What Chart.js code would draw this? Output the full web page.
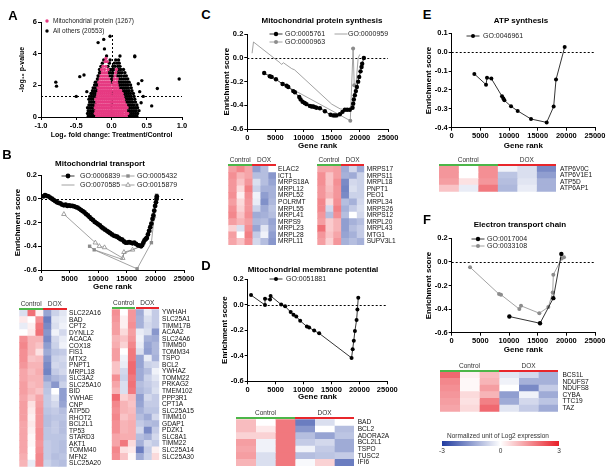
<!DOCTYPE html>
<html>
<head>
<meta charset="utf-8">
<title>Mitochondrial gene set enrichment</title>
<script src="https://cdn.jsdelivr.net/npm/chart.js@4.4.1/dist/chart.umd.min.js"></script>
<style>
  html, body { margin: 0; padding: 0; background: #fff; }
  body { position: relative; width: 612px; height: 476px; overflow: hidden; font-family: "Liberation Sans", Arial, sans-serif; color: #000; }
  canvas { position: absolute; }
  .t { position: absolute; white-space: nowrap; line-height: 1; transform: translate(-50%, -50%); }
  .strip { position: absolute; height: 2px; }
</style>
</head>
<body>
<script>
// ---------- A: volcano plot (log2 fold change, -log10 p) ----------
const mitoRows = [
  [0.05, [-0.21, -0.18, -0.15, -0.12, -0.09, -0.06, -0.03, 0.0, 0.03, 0.06, 0.09, 0.12, 0.15, 0.18, 0.21]],
  [0.22, [-0.23, -0.2, -0.17, -0.14, -0.11, -0.08, -0.05, -0.02, 0.01, 0.04, 0.07, 0.1, 0.13, 0.16, 0.2, 0.23]],
  [0.4, [-0.22, -0.19, -0.16, -0.13, -0.1, -0.07, -0.04, -0.01, 0.02, 0.05, 0.08, 0.11, 0.14, 0.17, 0.2]],
  [0.58, [-0.23, -0.2, -0.17, -0.14, -0.11, -0.08, -0.05, -0.02, 0.01, 0.04, 0.07, 0.1, 0.13, 0.16, 0.19, 0.22]],
  [0.76, [-0.22, -0.19, -0.16, -0.13, -0.1, -0.07, -0.04, -0.01, 0.02, 0.05, 0.08, 0.11, 0.14, 0.17, 0.2]],
  [0.94, [-0.21, -0.18, -0.15, -0.12, -0.09, -0.06, -0.03, 0.0, 0.03, 0.06, 0.09, 0.12, 0.15, 0.18]],
  [1.12, [-0.22, -0.19, -0.16, -0.13, -0.1, -0.07, -0.04, -0.01, 0.02, 0.05, 0.08, 0.11, 0.14, 0.17]],
  [1.3, [-0.2, -0.17, -0.14, -0.11, -0.08, -0.05, -0.02, 0.01, 0.04, 0.07, 0.1, 0.13, 0.16]],
  [1.48, [-0.19, -0.16, -0.13, -0.1, -0.07, -0.04, -0.01, 0.03, 0.06, 0.09, 0.12, 0.15]],
  [1.66, [-0.18, -0.15, -0.12, -0.09, -0.06, -0.03, 0.0, 0.04, 0.07, 0.1, 0.13]],
  [1.84, [-0.19, -0.16, -0.13, -0.1, -0.07, -0.04, -0.01, 0.03, 0.06, 0.09]],
  [2.02, [-0.17, -0.14, -0.11, -0.08, -0.05, -0.02, 0.02, 0.05, 0.08]],
  [2.2, [-0.18, -0.15, -0.12, -0.09, -0.06, -0.03, 0.03, 0.07]],
  [2.4, [-0.16, -0.13, -0.1, -0.07, -0.04, 0.04, 0.08]],
  [2.6, [-0.15, -0.12, -0.09, -0.06, 0.05]],
  [2.8, [-0.13, -0.1, -0.07, 0.06]],
  [3.0, [-0.14, -0.1, -0.05, 0.07]],
  [3.2, [-0.12, -0.08]],
  [3.5, [-0.09, -0.06]],
  [3.7, [-0.08]],
];
const otherRows = [
  [0.05, [-0.33, -0.3, -0.27, -0.24, -0.01, 0.24, 0.27, 0.3, 0.33, 0.36]],
  [0.22, [-0.34, -0.31, -0.28, -0.25, 0.01, 0.25, 0.28, 0.31, 0.34, 0.37]],
  [0.4, [-0.33, -0.3, -0.27, -0.24, 0.23, 0.26, 0.29, 0.32, 0.35, 0.39]],
  [0.58, [-0.34, -0.31, -0.28, -0.25, 0.0, 0.25, 0.28, 0.31, 0.34, 0.37]],
  [0.76, [-0.32, -0.29, -0.26, -0.23, 0.23, 0.26, 0.29, 0.32, 0.36]],
  [0.94, [-0.31, -0.28, -0.25, -0.22, 0.0, 0.21, 0.24, 0.27, 0.3, 0.34]],
  [1.12, [-0.32, -0.29, -0.26, 0.2, 0.23, 0.26, 0.29, 0.33]],
  [1.3, [-0.31, -0.28, -0.25, -0.22, 0.19, 0.22, 0.25, 0.28, 0.32]],
  [1.48, [-0.29, -0.26, -0.23, 0.0, 0.18, 0.21, 0.24, 0.27, 0.31]],
  [1.66, [-0.27, -0.24, -0.21, 0.16, 0.19, 0.22, 0.25, 0.29]],
  [1.84, [-0.26, -0.23, -0.2, 0.12, 0.15, 0.18, 0.21, 0.24, 0.28]],
  [2.02, [-0.24, -0.21, -0.19, 0.11, 0.14, 0.17, 0.2, 0.23, 0.27]],
  [2.2, [-0.23, -0.21, 0.0, 0.1, 0.13, 0.16, 0.19, 0.22, 0.25]],
  [2.4, [-0.2, -0.19, 0.0, 0.01, 0.11, 0.14, 0.17, 0.2, 0.23]],
  [2.6, [-0.19, -0.18, -0.03, 0.0, 0.02, 0.08, 0.11, 0.14, 0.18, 0.21]],
  [2.8, [-0.17, -0.16, -0.04, -0.01, 0.02, 0.09, 0.12, 0.15, 0.19]],
  [3.0, [-0.17, -0.02, 0.01, 0.03, 0.1, 0.13, 0.17]],
  [3.2, [-0.15, -0.05, 0.02, 0.05, 0.09, 0.12]],
  [3.4, [-0.13, -0.03, 0.04, 0.08, 0.11]],
  [3.6, [-0.11, -0.02, 0.06, 0.1]],
  [3.85, [-0.07, 0.12, 0.33]],
];
const otherOutliers = [
  [-0.79, 2.2], [-0.78, 1.95], [-0.5, 1.3], [-0.45, 2.55], [-0.39, 2.65], [-0.35, 1.6],
  [-0.19, 4.7], [-0.11, 4.9], [-0.02, 5.1], [-0.1, 4.3], [0.33, 3.8], [0.38, 2.1],
  [0.43, 2.3], [0.4, 1.6], [0.45, 1.3], [0.42, 0.9], [0.57, 0.7], [0.65, 1.8], [0.96, 2.4],
];
const pCut = 1.3;
const volcanoTop = 5.3;

// ---------- B: mitochondrial transport ----------
const bGO0006839 = [
  [400, 0.02], [700, 0.03], [1000, 0.025], [1300, 0.02], [1600, 0.01], [1900, 0.0], [2200, -0.01],
  [2500, -0.02], [2800, -0.03], [3100, -0.035], [3400, -0.04], [3700, -0.05], [4000, -0.055],
  [4300, -0.05], [4600, -0.06], [4900, -0.055], [5200, -0.06], [5500, -0.06], [5800, -0.065],
  [6100, -0.07], [6400, -0.075], [6700, -0.085], [7000, -0.095], [7300, -0.105], [7600, -0.115],
  [7900, -0.13], [8200, -0.14], [8500, -0.155], [8800, -0.17], [9100, -0.18], [9400, -0.195],
  [9700, -0.205], [10000, -0.215], [10300, -0.225], [10600, -0.24], [10900, -0.25], [11200, -0.26],
  [11500, -0.27], [11800, -0.28], [12100, -0.29], [12400, -0.3], [12700, -0.31], [13000, -0.315],
  [13300, -0.32], [13600, -0.33], [13900, -0.34], [14200, -0.345], [14500, -0.36], [14800, -0.37],
  [15100, -0.37], [15400, -0.365], [15700, -0.37], [16000, -0.375], [16300, -0.37], [16600, -0.38],
  [16900, -0.39], [17200, -0.395], [17500, -0.4], [17700, -0.39], [17900, -0.37], [18100, -0.35],
  [18300, -0.34], [18500, -0.33], [18700, -0.3], [18900, -0.27], [19100, -0.24], [19300, -0.21],
  [19500, -0.17], [19650, -0.14], [19800, -0.1], [19950, -0.06], [20100, -0.03], [20200, 0.0], [20250, 0.02],
];
const bGO0005432 = [[8500, -0.4], [9300, -0.43], [16800, -0.59], [19300, -0.37], [20200, 0.03]];
const bGO0070585 = [[8800, -0.41], [9300, -0.43], [14200, -0.51], [14500, -0.46], [17000, -0.41], [18500, -0.33], [20000, -0.05], [20300, 0.02]];
const bGO0015879 = [[4000, -0.13], [9500, -0.37], [10200, -0.4], [11100, -0.41], [14300, -0.5], [14500, -0.45], [16000, -0.43], [17300, -0.4], [18200, -0.34], [19000, -0.27], [19700, -0.15], [20200, 0.0]];

const bLeftGenes = ['SLC22A16', 'BAD', 'CPT2', 'DYNLL2', 'ACACA', 'COX18', 'FIS1', 'MTX2', 'PNPT1', 'MRPL18', 'SLC3A2', 'SLC25A10', 'BID', 'YWHAE', 'CNP', 'ATP5D', 'RHOT2', 'BCL2L1', 'TP53', 'STARD3', 'AKT1', 'TOMM40', 'MFN2', 'SLC25A20'];
const bLeftValues = [
  [-0.5, 1.9, 0.2, -1.4, -0.7, -0.4], [0.3, 0.0, 1.5, -2.0, -0.4, -0.3], [-0.3, 0.2, 1.8, -1.8, -0.5, -0.2],
  [0.0, 0.3, 1.9, -1.6, -0.2, -0.6], [1.5, 1.0, 1.0, -1.8, -0.6, -0.3], [1.6, 1.0, 0.8, -1.5, -0.7, -0.2],
  [1.5, 1.0, 0.4, -1.3, -0.9, -0.8], [1.5, 0.8, 0.9, -1.6, -0.7, -0.6], [1.4, 1.0, 1.0, -1.8, -0.6, -0.7],
  [1.2, 0.9, 1.1, -1.9, -0.8, -0.6], [1.2, 1.0, 1.0, -1.4, -1.1, -0.9], [1.3, 0.9, 1.0, -1.0, -1.6, -0.7],
  [1.3, 1.0, 0.8, -0.9, 0.0, -1.5], [1.2, 0.8, 1.2, -0.8, -0.4, -1.5], [1.3, 0.4, 1.3, -0.8, -0.6, -1.4],
  [1.3, 0.3, 1.4, -0.9, -0.8, -1.0], [1.3, 0.2, 1.4, -1.0, -0.9, -0.9], [1.2, 0.3, 1.4, -1.0, -0.8, -1.0],
  [1.2, 0.2, 1.5, -0.9, -0.8, -1.0], [1.2, 0.1, 1.5, -0.9, -0.9, -0.9], [1.2, 0.1, 1.4, -0.8, -0.9, -1.0],
  [1.2, 0.0, 1.5, -0.8, -0.9, -1.0], [1.1, 0.0, 1.6, -0.8, -1.0, -0.9], [1.0, -0.3, 1.6, -0.7, -0.9, -1.0],
];
const bRightGenes = ['YWHAH', 'SLC25A1', 'TIMM17B', 'ACAA2', 'SLC24A6', 'TIMM50', 'TOMM34', 'TSPO', 'BCL2', 'YWHAZ', 'TOMM22', 'PRKAG2', 'TMEM102', 'PPP3R1', 'CPT1A', 'SLC25A15', 'TIMM10', 'GDAP1', 'PDZK1', 'SLC8A1', 'TIMM22', 'SLC25A14', 'SLC25A30'];
const bRightValues = [
  [1.5, 0.0, 1.4, -1.3, -0.3, -0.8], [1.4, 0.2, 1.4, -1.2, -0.5, -0.8], [1.3, 0.2, 1.5, -1.2, -0.6, -0.8],
  [1.3, 0.5, 1.3, -0.3, -0.5, -1.6], [1.0, 0.8, 1.4, -0.2, -1.2, -1.3], [1.1, 0.6, 1.6, -0.3, -1.4, -1.1],
  [1.3, 0.0, 1.8, -0.5, -1.5, -1.1], [1.3, -0.2, 1.8, -1.4, -0.3, -1.2], [0.8, -0.3, 2.0, -1.4, -0.7, -0.6],
  [0.8, -0.6, 2.0, -1.3, -1.0, -0.2], [1.5, -0.7, 1.8, -1.3, -0.7, -0.4], [1.2, -0.5, 1.9, -1.0, -0.8, -0.6],
  [1.0, -0.5, 1.8, -1.1, -0.9, -0.5], [2.0, 0.6, 0.9, -1.5, -0.6, -0.8], [1.6, 1.0, 0.8, -1.4, -0.8, -0.8],
  [1.5, 1.0, 0.9, -1.2, -0.9, -0.9], [1.6, 0.8, 1.0, -1.0, -1.3, -0.6], [1.5, 1.0, 1.1, -0.8, -1.0, -1.1],
  [1.5, 1.0, 1.1, -0.6, -1.8, -0.8], [1.2, 1.1, 1.1, -1.0, -1.2, -0.6], [1.2, 1.8, 0.5, -1.2, -0.6, -0.8],
  [1.6, 0.4, 0.3, -2.0, -0.8, 0.2], [1.5, 0.8, 0.1, -1.3, -0.7, 0.5],
];

// ---------- C: mitochondrial protein synthesis ----------
const cGO0005761 = [
  [3000, -0.127], [4000, -0.155], [4330, -0.16], [5090, -0.18], [6270, -0.22], [6980, -0.235], [7280, -0.245],
  [8170, -0.28], [8460, -0.29], [9230, -0.33], [9470, -0.35], [9820, -0.37], [10200, -0.38], [10530, -0.39],
  [11120, -0.405], [11420, -0.41], [11720, -0.41], [12000, -0.415], [12300, -0.42], [12900, -0.425],
  [13790, -0.45], [14790, -0.48], [15270, -0.485], [15560, -0.485], [15860, -0.485], [16450, -0.475],
  [16920, -0.455], [17340, -0.437], [17750, -0.437], [18220, -0.437], [18700, -0.42], [18820, -0.386],
  [18930, -0.35], [19110, -0.315], [19290, -0.28], [19470, -0.245], [19700, -0.2], [19880, -0.16],
  [20120, -0.113], [20300, -0.076], [20410, -0.048], [20710, 0.0],
];
const cGO0000963 = [[6300, -0.22], [18300, -0.53], [18800, 0.08], [19000, -0.23]];
const cGO0000959 = [[850, 0.04], [1100, 0.135], [5800, -0.04], [6100, -0.055], [6400, -0.04], [7900, -0.09], [8400, -0.1], [15000, -0.39], [16500, -0.43], [18300, -0.44], [19300, -0.23], [19700, 0.0], [20000, 0.03]];

const cLeftGenes = ['ELAC2', 'ICT1', 'MRPS18A', 'MRPL12', 'MRPL52', 'POLRMT', 'MRPL55', 'MRPL41', 'MRPS9', 'MRPL23', 'MRPL28', 'MRPL11'];
const cLeftValues = [
  [1.3, 1.6, 1.2, -1.5, -1.0, 0.0], [1.5, 1.0, 1.2, -1.0, -1.0, -1.6], [1.4, 0.8, 1.4, -0.5, -1.0, -1.4],
  [1.4, 0.5, 1.7, -0.7, -1.2, -1.2], [1.5, 0.2, 1.5, -0.2, -1.5, -1.2], [1.3, 0.5, 1.4, -0.3, -1.7, -1.1],
  [1.5, 0.6, 1.4, -0.7, -1.3, -0.9], [1.6, 0.8, 1.5, -1.3, -1.2, -1.0], [1.3, 1.0, 1.3, -1.1, -1.0, -1.4],
  [0.6, -0.5, 1.5, -1.4, -0.4, -1.3], [1.3, 0.0, 1.7, -0.8, -0.2, -1.5], [1.2, 0.8, 1.5, -0.6, -1.0, -1.6],
];
const cRightGenes = ['MRPS17', 'MRPS11', 'MRPL18', 'PNPT1', 'PEO1', 'MRPL34', 'MRPS26', 'MRPS12', 'MRPL20', 'MRPL43', 'MTG1', 'SUPV3L1'];
const cRightValues = [
  [1.2, 1.2, 1.3, -1.3, -0.6, -1.3], [1.5, 0.8, 1.3, -1.2, -1.3, -0.7], [1.5, 0.8, 1.5, -1.8, -0.6, -0.7],
  [1.4, 0.9, 1.4, -1.9, -0.5, -0.7], [1.4, 1.0, 1.4, -1.8, -0.7, -0.7], [1.6, 0.5, 1.5, -1.0, -1.2, -0.6],
  [1.6, -0.6, 1.7, -1.2, -0.8, -0.5], [1.4, -1.0, 1.5, -1.0, 0.0, -0.6], [1.3, 0.7, 1.0, -1.5, -1.2, -1.0],
  [1.9, 0.7, 1.0, -1.5, -1.0, -0.8], [1.4, 0.8, 1.2, -1.4, -1.2, -0.8], [1.3, 0.6, 1.4, -1.2, -1.0, -1.2],
];

// ---------- D: mitochondrial membrane potential ----------
const dGO0051881 = [
  [600, 0.074], [3100, -0.003], [3100, 0.046], [4000, 0.04], [4100, 0.068], [6000, 0.0], [6700, -0.014],
  [7700, -0.059], [8200, -0.079], [8700, -0.093], [9400, -0.127], [10600, -0.172], [11000, -0.18],
  [11900, -0.203], [12800, -0.225], [18600, -0.417], [18800, -0.349], [19000, -0.282], [19200, -0.206],
  [19500, -0.121], [19650, -0.039], [19800, 0.054],
];
const dGenes = ['BAD', 'BCL2', 'ADORA2A', 'BCL2L1', 'TSPO', 'TUSC2', 'IFI6'];
const dValues = [
  [0.9, 0.0, 1.8, -2.0, -0.5, 0.0], [0.9, 0.3, 1.8, -1.6, 0.0, -1.0], [0.6, 0.6, 1.8, -1.0, -1.4, -0.9],
  [1.3, -0.2, 1.8, -0.8, -0.6, -1.3], [1.2, -0.2, 1.8, -0.2, -0.8, -1.3], [1.3, -0.5, 1.8, -1.0, -0.9, -0.8],
  [1.0, -0.5, 1.8, -0.1, 0.6, -2.0],
];

// ---------- E: ATP synthesis ----------
const eGO0046961 = [
  [3950, -0.115], [5990, -0.172], [6160, -0.136], [6920, -0.14], [8780, -0.234], [9010, -0.246], [9190, -0.255],
  [10350, -0.287], [11510, -0.311], [13840, -0.354], [16570, -0.372], [17790, -0.288], [18200, -0.145], [19710, 0.027],
];
const eGenes = ['ATP6V0C', 'ATP6V1E1', 'ATP5D', 'ATP6AP1'];
const eValues = [
  [1.4, 0.0, 1.5, -0.2, -0.5, -1.8], [1.4, 0.0, 1.5, -0.9, -0.5, -1.5],
  [1.3, 0.4, 1.4, -1.0, -0.4, -1.2], [0.8, -0.3, 1.8, -1.1, -0.3, -1.2],
];

// ---------- F: electron transport chain ----------
const fGO0017004 = [[10060, -0.463], [15410, -0.52], [17730, -0.307], [19130, 0.068]];
const fGO0033108 = [[3200, -0.045], [8260, -0.273], [8600, -0.278], [11800, -0.4], [12090, -0.372], [15290, -0.435], [16860, -0.383], [17620, -0.26], [17730, -0.108], [19190, 0.028], [19590, 0.04]];
const fGenes = ['BCS1L', 'NDUFS7', 'NDUFS8', 'CYBA', 'TTC19', 'TAZ'];
const fValues = [
  [2.0, 0.2, 0.9, -0.4, -0.6, -1.2], [1.6, 0.1, 1.0, -0.2, -1.2, -1.2], [1.5, 0.1, 1.3, 0.0, -1.8, -0.8],
  [1.4, 0.5, 1.0, -1.5, -0.2, -1.3], [1.3, 0.4, 1.7, -1.3, -0.6, -0.9], [1.2, 0.5, 2.0, -0.4, -0.8, -1.3],
];

const rankRange = [0, 25000, 5000];
const colorbarTicks = [-3, 0, 3];

// ---------------------------------------------------------------
const FONT = '"Liberation Sans", Arial, sans-serif';
Chart.defaults.font.family = FONT;
Chart.defaults.color = '#000';
Chart.defaults.animation = false;

const pts = arr => arr.map(([x, y]) => ({ x, y }));
const rowPts = rows => rows.flatMap(([y, xs]) => xs.map(x => ({ x, y })));

function heat(v) {
  const t = Math.max(-1, Math.min(1, v / 3));
  const end = t < 0 ? [33, 60, 160] : [232, 30, 40];
  const a = Math.abs(t);
  const c = end.map(e => Math.round(255 + (e - 255) * a));
  return `rgb(${c[0]},${c[1]},${c[2]})`;
}

function canvasAt(x, y, w, h) {
  const c = document.createElement('canvas');
  c.width = w; c.height = h;
  c.style.left = x + 'px'; c.style.top = y + 'px';
  c.style.width = w + 'px'; c.style.height = h + 'px';
  document.body.appendChild(c);
  return c;
}

function label(text, x, y, size, weight, color) {
  const d = document.createElement('div');
  d.className = 't';
  d.textContent = text;
  d.style.left = x + 'px'; d.style.top = y + 'px';
  d.style.fontSize = size + 'px';
  if (weight) d.style.fontWeight = weight;
  if (color) d.style.color = color;
  document.body.appendChild(d);
}

function strip(x, y, w, color) {
  const d = document.createElement('div');
  d.className = 'strip';
  d.style.left = x + 'px'; d.style.top = y + 'px';
  d.style.width = w + 'px'; d.style.background = color;
  document.body.appendChild(d);
}

// legend entries drawn where the figure has them
const keysPlugin = {
  id: 'keys',
  afterDraw(chart, args, o) {
    if (!o.items) return;
    const ctx = chart.ctx;
    o.items.forEach(it => {
      const ds = chart.data.datasets[it.ds];
      const x = it.x - o.ox, y = it.y - o.oy;
      ctx.save();
      if (ds.showLine) {
        ctx.strokeStyle = ds.borderColor; ctx.lineWidth = ds.borderWidth;
        ctx.beginPath(); ctx.moveTo(x - 6.5, y); ctx.lineTo(x + 6.5, y); ctx.stroke();
      }
      if (ds.pointRadius > 0) {
        ctx.fillStyle = ds.pointBackgroundColor;
        ctx.strokeStyle = ds.pointBorderColor || ds.pointBackgroundColor;
        ctx.lineWidth = ds.pointBorderWidth || 0;
        Chart.helpers.drawPoint(ctx, { pointStyle: ds.pointStyle || 'circle', radius: ds.pointRadius, borderWidth: ds.pointBorderWidth || 0, rotation: 0 }, x, y);
      }
      ctx.fillStyle = '#222';
      ctx.font = `${o.size || 7}px ${FONT}`;
      ctx.textBaseline = 'middle';
      ctx.fillText(ds.label, it.tx - o.ox, y);
      ctx.restore();
    });
  }
};

// dotted reference lines
const refLinesPlugin = {
  id: 'refLines',
  beforeDatasetsDraw(chart, args, o) {
    const { ctx, chartArea: a, scales: { x, y } } = chart;
    ctx.save();
    ctx.strokeStyle = '#000'; ctx.lineWidth = 1; ctx.setLineDash([2, 2]);
    (o.h || []).forEach(v => {
      const py = Math.round(y.getPixelForValue(v)) + 0.5;
      ctx.beginPath(); ctx.moveTo(a.left, py); ctx.lineTo(a.right, py); ctx.stroke();
    });
    (o.v || []).forEach(([v, top]) => {
      const px = Math.round(x.getPixelForValue(v)) + 0.5;
      ctx.beginPath(); ctx.moveTo(px, a.bottom); ctx.lineTo(px, y.getPixelForValue(top)); ctx.stroke();
    });
    ctx.restore();
  }
};

function plot(o) {
  const [bx, by, bw] = o.box;
  const [l, t, r, b] = o.area;
  const ts = o.titleSize || 8, half = ts * 0.6;
  const bh = Math.ceil(o.xTitleY + half - by);
  const cv = canvasAt(bx, by, bw, bh);
  const axis = (rng, fmt, title, pad, fit) => ({
    type: 'linear', min: rng[0], max: rng[1],
    ticks: { stepSize: rng[2], autoSkip: false, maxRotation: 0, padding: 1, font: { size: 7.5, weight: 'bold' }, color: '#000', callback: fmt },
    grid: { drawOnChartArea: false, tickLength: 3, color: '#000', lineWidth: 1 },
    border: { color: '#000', width: 1 },
    title: { display: true, text: title, color: '#000', font: { size: ts, weight: 'bold' }, padding: pad },
    afterFit: fit,
  });
  return new Chart(cv, {
    type: 'scatter',
    data: { datasets: o.datasets },
    options: {
      responsive: false,
      animation: false,
      layout: { padding: { left: 0, top: t - by, right: bx + bw - r, bottom: 0 } },
      plugins: {
        legend: { display: false },
        tooltip: { enabled: false },
        keys: { ox: bx, oy: by, items: o.keys, size: o.keySize },
        refLines: o.ref,
      },
      scales: {
        x: axis(o.x, o.xFmt, o.xTitle, { top: 0, bottom: Math.max(0, bh - half - (o.xTitleY - by)) }, s => { s.height = bh - (b - by); }),
        y: axis(o.y, o.yFmt, o.yTitle, { top: Math.max(0, o.yTitleX - bx - half), bottom: 0 }, s => { s.width = l - bx; }),
      },
    },
    plugins: [keysPlugin, refLinesPlugin],
  });
}

function heatmap(o) {
  const n = o.genes.length;
  const hH = n * o.rowH;
  const cx = Math.floor(o.x), cy = Math.floor(o.y) - 8;
  const cw = Math.ceil(o.x + o.w - cx) + 46;
  const ch = Math.ceil(o.y + hH - cy) + 8;
  const cv = canvasAt(cx, cy, cw, ch);
  const labelW = cw - (o.x + o.w - cx);
  new Chart(cv, {
    type: 'bar',
    data: {
      labels: o.genes,
      datasets: o.values[0].map((_, j) => ({
        data: o.genes.map(() => [j, j + 1]),
        backgroundColor: o.values.map(row => heat(row[j])),
        borderWidth: 0, grouped: false, barPercentage: 1, categoryPercentage: 1,
      })),
    },
    options: {
      indexAxis: 'y', responsive: false, animation: false,
      layout: { padding: { left: o.x - cx, top: o.y - cy, right: 0, bottom: ch - (o.y - cy) - hH } },
      plugins: { legend: { display: false }, tooltip: { enabled: false } },
      scales: {
        x: { type: 'linear', min: 0, max: o.values[0].length, display: false },
        y: {
          position: 'right',
          grid: { display: false, drawTicks: false },
          border: { display: false },
          ticks: { autoSkip: false, padding: o.gap, font: { size: 6.6 }, color: '#111' },
          afterFit: s => { s.width = labelW; },
        },
      },
    },
  });
  const mid = o.x + o.w / 2;
  strip(o.x, o.y - 2, o.w / 2, '#4cb649');
  strip(mid, o.y - 2, o.w / 2, '#e8262b');
  label('Control', (o.x + mid) / 2, o.y - 6, 6.5, null, '#333');
  label('DOX', mid + o.w / 4, o.y - 6, 6.5, null, '#333');
}

const rankFmt = v => String(v);
const esFmt = v => v.toFixed(1);
const black = (label, data, r) => ({ label, data: pts(data), showLine: true, borderColor: '#000', borderWidth: 0.8, pointRadius: r, pointBackgroundColor: '#000', pointBorderColor: '#000', pointBorderWidth: 0 });
const grey = (label, data, extra) => Object.assign({ label, data: pts(data), showLine: true, borderColor: '#8c8c8c', borderWidth: 0.8, pointRadius: 2, pointBackgroundColor: '#8c8c8c', pointBorderColor: '#8c8c8c', pointBorderWidth: 0 }, extra);

// ---------- A ----------
plot({
  box: [0, 10, 195], area: [41, 22, 182, 117], xTitleY: 135, yTitleX: 22, titleSize: 7,
  x: [-1, 1, 0.5], y: [0, 6, 2], xFmt: v => v.toFixed(1), yFmt: v => String(v),
  xTitle: 'Log\u2082 fold change: Treatment/Control', yTitle: '-log\u2081\u2080 p-value',
  datasets: [
    { label: 'Mitochondrial protein (1267)', data: rowPts(mitoRows), showLine: false, pointRadius: 1.7, pointBackgroundColor: '#e63a82', pointBorderWidth: 0 },
    { label: 'All others (20553)', data: rowPts(otherRows).concat(pts(otherOutliers)), showLine: false, pointRadius: 1.7, pointBackgroundColor: '#000', pointBorderWidth: 0 },
  ],
  keys: [{ ds: 0, x: 47, y: 21, tx: 53 }, { ds: 1, x: 47, y: 31, tx: 53 }], keySize: 6.5,
  ref: { h: [pCut], v: [[0, volcanoTop]] },
});

// ---------- B ----------
plot({
  box: [0, 165, 200], area: [41, 175, 184, 270], xTitleY: 287, yTitleX: 18,
  x: rankRange, y: [-0.6, 0.2, 0.2], xFmt: rankFmt, yFmt: esFmt, xTitle: 'Gene rank', yTitle: 'Enrichment score',
  datasets: [
    black('GO:0006839', bGO0006839, 2.4),
    grey('GO:0005432', bGO0005432, { pointStyle: 'rect', pointRadius: 2.4 }),
    grey('GO:0070585', bGO0070585, { pointRadius: 0 }),
    grey('GO:0015879', bGO0015879, { pointStyle: 'triangle', pointRadius: 2.6, pointBackgroundColor: '#fff', pointBorderWidth: 0.8 }),
  ],
  keys: [{ ds: 0, x: 68, y: 176, tx: 80 }, { ds: 1, x: 128, y: 176, tx: 137 }, { ds: 2, x: 68, y: 185, tx: 80 }, { ds: 3, x: 128, y: 185, tx: 137 }],
  ref: { h: [0] },
});
heatmap({ x: 19.3, y: 310, w: 47.4, rowH: 6.53, genes: bLeftGenes, values: bLeftValues, gap: 2.3 });
heatmap({ x: 111.7, y: 309.3, w: 47.6, rowH: 6.55, genes: bRightGenes, values: bRightValues, gap: 2.7 });

// ---------- C ----------
plot({
  box: [205, 24, 200], area: [247.3, 34.3, 388, 129], xTitleY: 146, yTitleX: 227,
  x: rankRange, y: [-0.6, 0.2, 0.2], xFmt: rankFmt, yFmt: esFmt, xTitle: 'Gene rank', yTitle: 'Enrichment score',
  datasets: [
    black('GO:0005761', cGO0005761, 2.2),
    grey('GO:0000963', cGO0000963),
    grey('GO:0000959', cGO0000959, { pointRadius: 0 }),
  ],
  keys: [{ ds: 0, x: 276, y: 34, tx: 285 }, { ds: 1, x: 276, y: 42, tx: 285 }, { ds: 2, x: 341, y: 34, tx: 348 }],
  ref: { h: [0] },
});
heatmap({ x: 228.3, y: 166, w: 47.7, rowH: 6.58, genes: cLeftGenes, values: cLeftValues, gap: 2 });
heatmap({ x: 317.3, y: 166, w: 47, rowH: 6.58, genes: cRightGenes, values: cRightValues, gap: 2.4 });

// ---------- D ----------
plot({
  box: [205, 268, 200], area: [247.7, 279, 387.3, 381.3], xTitleY: 397, yTitleX: 225,
  x: rankRange, y: [-0.6, 0.2, 0.2], xFmt: rankFmt, yFmt: esFmt, xTitle: 'Gene rank', yTitle: 'Enrichment score',
  datasets: [black('GO:0051881', dGO0051881, 2)],
  keys: [{ ds: 0, x: 276, y: 279, tx: 286 }],
  ref: { h: [0] },
});
heatmap({ x: 236, y: 419.3, w: 118, rowH: 6.67, genes: dGenes, values: dValues, gap: 3.7 });

// ---------- E ----------
plot({
  box: [420, 24, 190], area: [451.7, 33.3, 595, 127.7], xTitleY: 146, yTitleX: 429,
  x: rankRange, y: [-0.4, 0.1, 0.1], xFmt: rankFmt, yFmt: esFmt, xTitle: 'Gene rank', yTitle: 'Enrichment score',
  datasets: [black('GO:0046961', eGO0046961, 2)],
  keys: [{ ds: 0, x: 473, y: 36, tx: 483 }],
  ref: { h: [0] },
});
heatmap({ x: 439, y: 165.7, w: 117, rowH: 6.5, genes: eGenes, values: eValues, gap: 4 });

// ---------- F ----------
plot({
  box: [420, 228, 190], area: [451.7, 238.3, 595, 332.7], xTitleY: 350, yTitleX: 429,
  x: rankRange, y: [-0.6, 0.2, 0.2], xFmt: rankFmt, yFmt: esFmt, xTitle: 'Gene rank', yTitle: 'Enrichment score',
  datasets: [black('GO:0017004', fGO0017004, 2.2), grey('GO:0033108', fGO0033108)],
  keys: [{ ds: 0, x: 478, y: 239, tx: 487 }, { ds: 1, x: 478, y: 246, tx: 487 }],
  ref: { h: [0] },
});
heatmap({ x: 440, y: 371.7, w: 118, rowH: 6.67, genes: fGenes, values: fValues, gap: 4.4 });

// ---------- colour key ----------
(function () {
  const cv = canvasAt(436, 436, 130, 22);
  new Chart(cv, {
    type: 'bar',
    data: {
      labels: [''],
      datasets: [{
        data: [[colorbarTicks[0], colorbarTicks[2]]],
        borderWidth: 0, barPercentage: 1, categoryPercentage: 1,
        backgroundColor: c => {
          const a = c.chart.chartArea;
          if (!a) return '#fff';
          const g = c.chart.ctx.createLinearGradient(a.left, 0, a.right, 0);
          g.addColorStop(0, heat(-3)); g.addColorStop(0.5, heat(0)); g.addColorStop(1, heat(3));
          return g;
        },
      }],
    },
    options: {
      indexAxis: 'y', responsive: false, animation: false,
      layout: { padding: { left: 6, top: 5, right: 7, bottom: 0 } },
      plugins: { legend: { display: false }, tooltip: { enabled: false } },
      scales: {
        x: {
          type: 'linear', min: -3, max: 3,
          afterBuildTicks: s => { s.ticks = colorbarTicks.map(v => ({ value: v })); },
          ticks: { padding: 1, font: { size: 6.5 }, color: '#333' },
          grid: { display: false, drawTicks: false }, border: { display: false },
          afterFit: s => { s.height = 12; },
        },
        y: { display: false },
      },
    },
  });
  label('Normalized unit of Log2 expression', 498, 436, 6.5, null, '#333');
})();

// ---------- panel letters and titles ----------
[['A', 13, 15], ['B', 7, 154], ['C', 206, 14], ['D', 206, 265], ['E', 427, 14], ['F', 427, 219]]
  .forEach(([s, x, y]) => label(s, x, y, 13, 'bold'));
label('Mitochondrial transport', 100, 164, 8, 'bold');
label('Mitochondrial protein synthesis', 322, 21, 8, 'bold');
label('Mitochondrial membrane potential', 313, 270, 8, 'bold');
label('ATP synthesis', 521, 21, 8, 'bold');
label('Electron transport chain', 520, 225, 8, 'bold');
</script>
</body>
</html>
